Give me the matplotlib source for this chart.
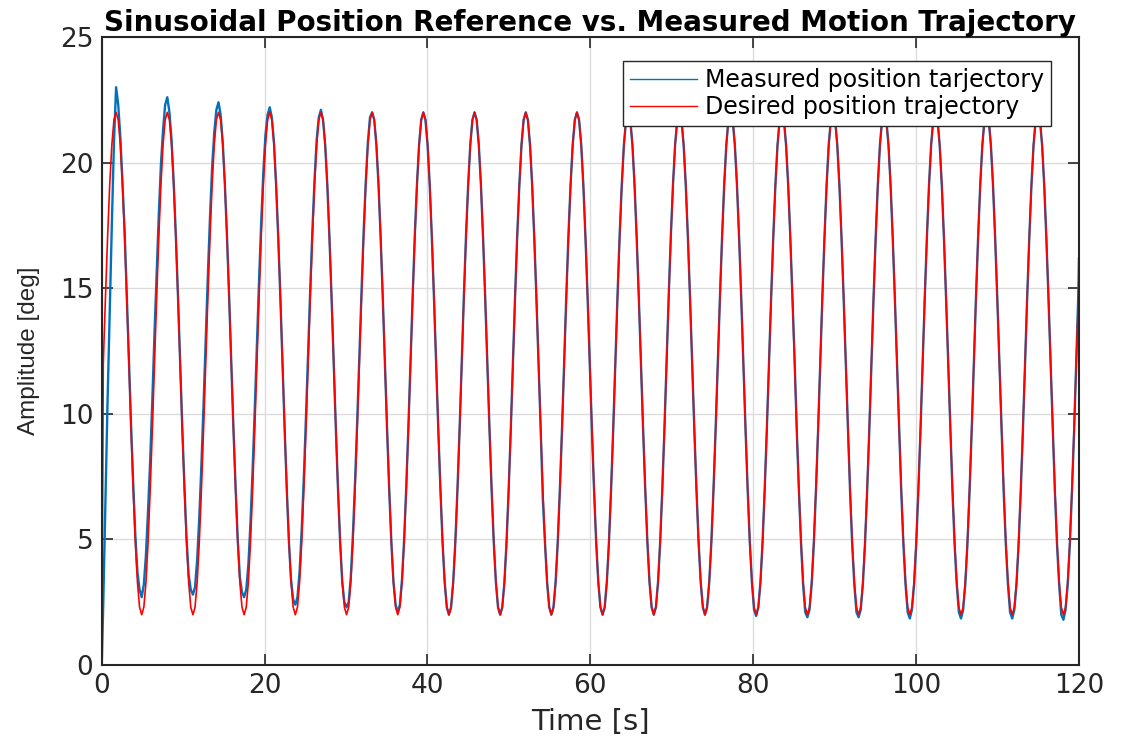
import numpy as np
import matplotlib
matplotlib.use('Agg')
import matplotlib.pyplot as plt

# sample grid (s), one sample every 15 deg of the reference sine
t_grid = np.round(np.arange(0.19, 120.0, 0.262), 3)
t_start = 0.0
t_end = 120.0

# desired position trajectory [deg], one row per cycle
desired = [
    12.0, 14.6, 17.0, 19.1, 20.7, 21.7, 22.0, 21.7, 20.7, 19.1, 17.0, 14.6, 12.0, 9.4, 7.0, 4.9, 3.3, 2.3, 2.0, 2.3, 3.3, 4.9, 7.0, 9.4,
    12.0, 14.6, 17.0, 19.1, 20.7, 21.7, 22.0, 21.7, 20.7, 19.1, 17.0, 14.6, 12.0, 9.4, 7.0, 4.9, 3.3, 2.3, 2.0, 2.3, 3.3, 4.9, 7.0, 9.4,
    12.0, 14.6, 17.0, 19.1, 20.7, 21.7, 22.0, 21.7, 20.7, 19.1, 17.0, 14.6, 12.0, 9.4, 7.0, 4.9, 3.3, 2.3, 2.0, 2.3, 3.3, 4.9, 7.0, 9.4,
    12.0, 14.6, 17.0, 19.1, 20.7, 21.7, 22.0, 21.7, 20.7, 19.1, 17.0, 14.6, 12.0, 9.4, 7.0, 4.9, 3.3, 2.3, 2.0, 2.3, 3.3, 4.9, 7.0, 9.4,
    12.0, 14.6, 17.0, 19.1, 20.7, 21.7, 22.0, 21.7, 20.7, 19.1, 17.0, 14.6, 12.0, 9.4, 7.0, 4.9, 3.3, 2.3, 2.0, 2.3, 3.3, 4.9, 7.0, 9.4,
    12.0, 14.6, 17.0, 19.1, 20.7, 21.7, 22.0, 21.7, 20.7, 19.1, 17.0, 14.6, 12.0, 9.4, 7.0, 4.9, 3.3, 2.3, 2.0, 2.3, 3.3, 4.9, 7.0, 9.4,
    12.0, 14.6, 17.0, 19.1, 20.7, 21.7, 22.0, 21.7, 20.7, 19.1, 17.0, 14.6, 12.0, 9.4, 7.0, 4.9, 3.3, 2.3, 2.0, 2.3, 3.3, 4.9, 7.0, 9.4,
    12.0, 14.6, 17.0, 19.1, 20.7, 21.7, 22.0, 21.7, 20.7, 19.1, 17.0, 14.6, 12.0, 9.4, 7.0, 4.9, 3.3, 2.3, 2.0, 2.3, 3.3, 4.9, 7.0, 9.4,
    12.0, 14.6, 17.0, 19.1, 20.7, 21.7, 22.0, 21.7, 20.7, 19.1, 17.0, 14.6, 12.0, 9.4, 7.0, 4.9, 3.3, 2.3, 2.0, 2.3, 3.3, 4.9, 7.0, 9.4,
    12.0, 14.6, 17.0, 19.1, 20.7, 21.7, 22.0, 21.7, 20.7, 19.1, 17.0, 14.6, 12.0, 9.4, 7.0, 4.9, 3.3, 2.3, 2.0, 2.3, 3.3, 4.9, 7.0, 9.4,
    12.0, 14.6, 17.0, 19.1, 20.7, 21.7, 22.0, 21.7, 20.7, 19.1, 17.0, 14.6, 12.0, 9.4, 7.0, 4.9, 3.3, 2.3, 2.0, 2.3, 3.3, 4.9, 7.0, 9.4,
    12.0, 14.6, 17.0, 19.1, 20.7, 21.7, 22.0, 21.7, 20.7, 19.1, 17.0, 14.6, 12.0, 9.4, 7.0, 4.9, 3.3, 2.3, 2.0, 2.3, 3.3, 4.9, 7.0, 9.4,
    12.0, 14.6, 17.0, 19.1, 20.7, 21.7, 22.0, 21.7, 20.7, 19.1, 17.0, 14.6, 12.0, 9.4, 7.0, 4.9, 3.3, 2.3, 2.0, 2.3, 3.3, 4.9, 7.0, 9.4,
    12.0, 14.6, 17.0, 19.1, 20.7, 21.7, 22.0, 21.7, 20.7, 19.1, 17.0, 14.6, 12.0, 9.4, 7.0, 4.9, 3.3, 2.3, 2.0, 2.3, 3.3, 4.9, 7.0, 9.4,
    12.0, 14.6, 17.0, 19.1, 20.7, 21.7, 22.0, 21.7, 20.7, 19.1, 17.0, 14.6, 12.0, 9.4, 7.0, 4.9, 3.3, 2.3, 2.0, 2.3, 3.3, 4.9, 7.0, 9.4,
    12.0, 14.6, 17.0, 19.1, 20.7, 21.7, 22.0, 21.7, 20.7, 19.1, 17.0, 14.6, 12.0, 9.4, 7.0, 4.9, 3.3, 2.3, 2.0, 2.3, 3.3, 4.9, 7.0, 9.4,
    12.0, 14.6, 17.0, 19.1, 20.7, 21.7, 22.0, 21.7, 20.7, 19.1, 17.0, 14.6, 12.0, 9.4, 7.0, 4.9, 3.3, 2.3, 2.0, 2.3, 3.3, 4.9, 7.0, 9.4,
    12.0, 14.6, 17.0, 19.1, 20.7, 21.7, 22.0, 21.7, 20.7, 19.1, 17.0, 14.6, 12.0, 9.4, 7.0, 4.9, 3.3, 2.3, 2.0, 2.3, 3.3, 4.9, 7.0, 9.4,
    12.0, 14.6, 17.0, 19.1, 20.7, 21.7, 22.0, 21.7, 20.7, 19.1, 17.0, 14.6, 12.0, 9.4, 7.0, 4.9, 3.3, 2.3, 2.0, 2.3, 3.3, 4.9, 7.0, 9.4,
    12.0, 14.6,
]
desired_start = 0.0
desired_end = 15.4

# measured position trajectory [deg]
measured = [
    2.5, 6.5, 10.5, 14.0, 17.5, 20.8, 23.0, 22.3, 21.0, 19.2, 17.3, 14.8, 12.2, 9.6, 7.3, 5.2, 3.7, 3.0, 2.7, 3.2, 4.4, 6.2, 8.2, 10.6,
    13.2, 15.6, 17.9, 19.9, 21.3, 22.3, 22.6, 22.0, 20.9, 19.2, 17.1, 14.7, 12.1, 9.5, 7.2, 5.1, 3.6, 3.0, 2.8, 3.1, 4.2, 5.9, 8.0, 10.4,
    13.0, 15.5, 17.8, 19.8, 21.2, 22.1, 22.4, 21.9, 20.8, 19.1, 17.0, 14.6, 12.0, 9.4, 7.1, 5.0, 3.5, 2.9, 2.7, 3.0, 4.0, 5.7, 7.8, 10.2,
    12.8, 15.3, 17.6, 19.6, 21.1, 21.9, 22.2, 21.8, 20.8, 19.1, 17.0, 14.6, 12.0, 9.4, 7.0, 4.9, 3.4, 2.6, 2.4, 2.7, 3.7, 5.4, 7.5, 9.9,
    12.5, 15.0, 17.3, 19.3, 20.9, 21.8, 22.1, 21.7, 20.7, 19.1, 17.0, 14.6, 12.0, 9.4, 7.0, 4.9, 3.3, 2.5, 2.3, 2.5, 3.5, 5.2, 7.3, 9.7,
    12.3, 14.8, 17.2, 19.2, 20.8, 21.8, 22.0, 21.7, 20.7, 19.1, 17.0, 14.6, 12.0, 9.4, 7.0, 4.9, 3.3, 2.4, 2.1, 2.4, 3.4, 5.0, 7.1, 9.5,
    12.1, 14.7, 17.1, 19.1, 20.7, 21.7, 22.0, 21.7, 20.7, 19.1, 17.0, 14.6, 12.0, 9.4, 7.0, 4.9, 3.3, 2.3, 2.0, 2.3, 3.3, 4.9, 7.0, 9.4,
    12.1, 14.7, 17.1, 19.1, 20.7, 21.7, 22.0, 21.7, 20.7, 19.1, 17.0, 14.6, 12.0, 9.4, 7.0, 4.9, 3.3, 2.3, 2.0, 2.3, 3.3, 4.9, 7.0, 9.4,
    12.1, 14.7, 17.1, 19.1, 20.7, 21.7, 22.0, 21.7, 20.7, 19.1, 17.0, 14.6, 12.0, 9.4, 6.6, 4.9, 3.3, 2.3, 2.0, 2.3, 3.3, 4.9, 7.0, 9.4,
    12.1, 14.7, 17.1, 19.1, 20.7, 21.7, 22.0, 21.7, 20.7, 19.1, 17.0, 14.6, 12.0, 9.4, 7.0, 4.9, 3.3, 2.3, 2.0, 2.3, 3.3, 4.9, 7.0, 9.4,
    12.1, 14.7, 17.1, 19.1, 20.7, 21.7, 22.0, 21.7, 20.7, 19.1, 17.0, 14.6, 12.0, 9.4, 7.0, 4.9, 3.3, 2.3, 2.0, 2.3, 3.3, 4.9, 7.0, 9.4,
    12.1, 14.7, 17.1, 19.1, 20.7, 21.7, 22.0, 21.7, 20.7, 19.1, 17.0, 14.6, 12.0, 9.4, 7.0, 4.9, 3.3, 2.3, 2.0, 2.3, 3.3, 4.9, 7.0, 9.4,
    12.0, 14.6, 17.0, 19.1, 20.7, 21.7, 22.0, 21.7, 20.7, 19.1, 17.0, 14.6, 12.0, 9.4, 7.0, 4.9, 3.3, 2.2, 1.95, 2.3, 3.3, 4.9, 7.0, 9.4,
    12.0, 14.6, 17.0, 19.1, 20.7, 21.7, 22.0, 21.7, 20.7, 19.1, 17.0, 14.6, 12.2, 9.4, 7.0, 4.9, 3.2, 2.1, 1.9, 2.2, 3.2, 4.8, 6.9, 9.3,
    12.0, 14.6, 17.0, 19.1, 20.7, 21.7, 22.0, 21.7, 20.7, 19.1, 17.0, 14.6, 12.0, 9.3, 6.9, 4.8, 3.2, 2.1, 1.9, 2.2, 3.2, 4.8, 6.9, 9.3,
    12.0, 14.6, 17.0, 19.1, 20.7, 21.7, 22.0, 21.7, 20.7, 19.1, 17.0, 14.6, 12.0, 9.3, 6.9, 4.8, 3.2, 2.1, 1.85, 2.2, 3.2, 4.8, 6.9, 9.3,
    12.0, 14.6, 17.0, 19.1, 20.7, 21.7, 22.0, 21.7, 20.7, 19.1, 17.0, 14.6, 12.0, 9.3, 6.9, 4.8, 3.2, 2.1, 1.85, 2.2, 3.2, 4.8, 6.9, 9.3,
    12.0, 14.6, 17.0, 19.1, 20.7, 21.7, 22.0, 21.7, 20.7, 19.1, 17.0, 14.6, 12.0, 9.3, 6.9, 4.8, 3.2, 2.1, 1.85, 2.2, 3.2, 4.8, 6.9, 9.3,
    12.0, 14.6, 17.0, 19.1, 20.7, 21.7, 22.0, 21.7, 20.7, 19.1, 17.0, 14.6, 12.0, 9.3, 6.9, 4.8, 3.2, 2.0, 1.8, 2.2, 3.2, 4.8, 6.9, 9.3,
    12.1, 14.8,
]
measured_start = 0.0
measured_end = 16.2

x_ticks = [0, 20, 40, 60, 80, 100, 120]
y_ticks = [0, 5, 10, 15, 20, 25]

t_all = np.concatenate(([t_start], t_grid, [t_end]))
y_des = np.array([desired_start] + desired + [desired_end])
y_mea = np.array([measured_start] + measured + [measured_end])

plt.rcParams['font.family'] = ['DejaVu Sans']
dark = '#262626'

fig = plt.figure(figsize=(11.23, 7.47), dpi=100)
ax = fig.add_axes([0.0906, 0.1098, 0.8702, 0.8407])

ax.plot(t_all, y_mea, color='#0072BD', linewidth=1.7, label='Measured position tarjectory')
ax.plot(t_all, y_des, color='#FF0000', linewidth=1.2, label='Desired position trajectory')

ax.set_xlim(0, 120)
ax.set_ylim(0, 25)
ax.set_xticks(x_ticks)
ax.set_yticks(y_ticks)
ax.grid(True, color='#dcdcdc', linewidth=1.0)
ax.set_axisbelow(True)
ax.tick_params(direction='in', length=8, width=1.2, colors=dark, labelsize=19,
               top=True, right=True)
ax.tick_params(axis='y', pad=6)
ax.tick_params(axis='x', pad=6)
for s in ax.spines.values():
    s.set_color(dark)
    s.set_linewidth(1.5)

ax.set_xlabel('Time [s]', fontsize=21, color=dark, labelpad=6)
ax.set_ylabel('Amplitude [deg]', fontsize=17.5, color=dark, labelpad=14,
              family=['Liberation Sans', 'DejaVu Sans'])
ax.set_title('Sinusoidal Position Reference vs. Measured Motion Trajectory',
             fontsize=20, fontweight='bold', color='black', pad=4)

leg = ax.legend(loc='upper right', bbox_to_anchor=(0.9713, 0.9618), borderaxespad=0,
                fontsize=17, fancybox=False, edgecolor=dark, framealpha=1,
                handlelength=2.84, borderpad=0.3, labelspacing=0.12,
                handletextpad=0.33)
leg.get_frame().set_linewidth(1.0)
for line in leg.get_lines():
    line.set_linewidth(1.0)

plt.savefig('out.png', dpi=100)
